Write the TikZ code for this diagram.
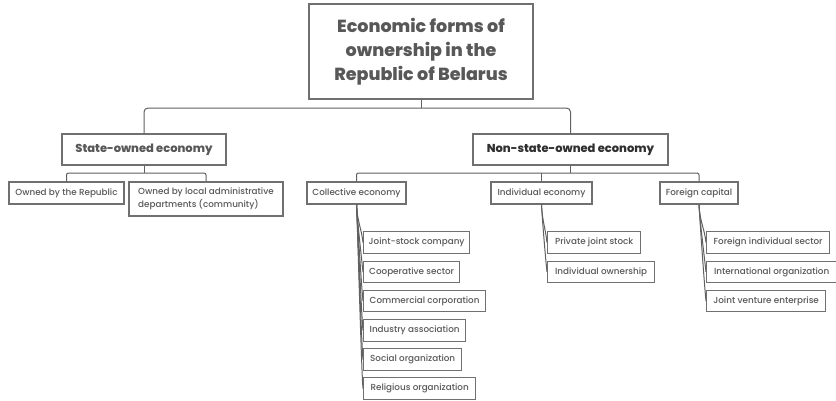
\documentclass[tikz,border=0pt]{standalone}
\usepackage{fontspec}
\setmainfont{Poppins}[BoldFont={Poppins ExtraBold}]
\newfontfamily\leaffont{Poppins Medium}
\usetikzlibrary{calc}
\definecolor{boxline}{HTML}{707070}
\definecolor{txt}{HTML}{585858}
\definecolor{dark}{HTML}{303030}
\definecolor{conn}{HTML}{606060}
\tikzset{
  box/.style={draw=boxline, line width=1.3pt, fill=white, inner sep=0pt, align=center},
  titlebox/.style={box, minimum width=224pt, minimum height=95pt, text=txt,
     font=\fontsize{17.5}{24}\selectfont\bfseries},
  midbox/.style={box, minimum height=31pt, font=\fontsize{11.5}{14}\selectfont\bfseries},
  leaf/.style={box, minimum height=22pt, text=txt, font=\leaffont\fontsize{8.8}{12.5}\selectfont},
  sub/.style={leaf, anchor=west, minimum height=21.5pt},
  link/.style={draw=conn, line width=1pt},
}
\begin{document}
\begin{tikzpicture}[x=1pt,y=-1pt]
\useasboundingbox (0,0) rectangle (836,400);
\fill[white] (0,0) rectangle (836,400);

\node[titlebox] (title) at (421,51.5) {Economic forms of\\ownership in the\\Republic of Belarus};

\node[midbox, minimum width=164pt, text=txt] (state) at (144,149.5) {State-owned economy};
\node[midbox, minimum width=195pt, text=dark] (nonstate) at (570.5,149.5) {Non-state-owned economy};

\node[leaf, minimum width=115pt] (rep) at (66.5,193) {Owned by the Republic};
\node[leaf, minimum width=154pt, minimum height=34pt, align=left] (local) at (206,199) {Owned by local administrative\\departments (community)};

\node[leaf, minimum width=99pt] (coll) at (356.5,193) {Collective economy};
\node[leaf, minimum width=101pt] (indiv) at (541.5,193) {Individual economy};
\node[leaf, minimum width=78pt] (foreign) at (699,193) {Foreign capital};

\node[sub, minimum width=106pt] (c1) at (363,242.5) {Joint-stock company};
\node[sub, minimum width=96pt] (c2) at (363,272) {Cooperative sector};
\node[sub, minimum width=122pt] (c3) at (363,301) {Commercial corporation};
\node[sub, minimum width=102pt] (c4) at (363,330.5) {Industry association};
\node[sub, minimum width=98pt] (c5) at (363,359.5) {Social organization};
\node[sub, minimum width=112pt] (c6) at (363,388.5) {Religious organization};

\node[sub, minimum width=93pt] (i1) at (547,242.5) {Private joint stock};
\node[sub, minimum width=107pt] (i2) at (547,272) {Individual ownership};

\node[sub, minimum width=123pt] (f1) at (706,242.5) {Foreign individual sector};
\node[sub, minimum width=130pt] (f2) at (706,272) {International organization};
\node[sub, minimum width=119pt] (f3) at (706,301) {Joint venture enterprise};

\coordinate (bar) at (421,108);
\coordinate (sbar) at (144,173);
\coordinate (nbar) at (570.5,173);

\draw[link] (title.south) -- (bar);
\draw[link, rounded corners=4pt] (state.north) |- (bar) -| (nonstate.north);

\draw[link] (state.south) -- (sbar);
\draw[link, rounded corners=2pt] (rep.north) |- (sbar) -| (local.north);

\draw[link] (nonstate.south) -- (nbar);
\draw[link, rounded corners=2pt] (coll.north) |- (nbar) -| (foreign.north);
\draw[link] (indiv.north) -- (indiv.north |- nbar);

\foreach \p/\c in {coll/c1,coll/c2,coll/c3,coll/c4,coll/c5,coll/c6,indiv/i1,indiv/i2,foreign/f1,foreign/f2,foreign/f3}{
  \draw[link] (\p.south) .. controls ($(\p.south)+(1,18)$) and ($(\c.west)+(-1.5,-14)$) .. (\c.west);
}
\end{tikzpicture}
\end{document}
